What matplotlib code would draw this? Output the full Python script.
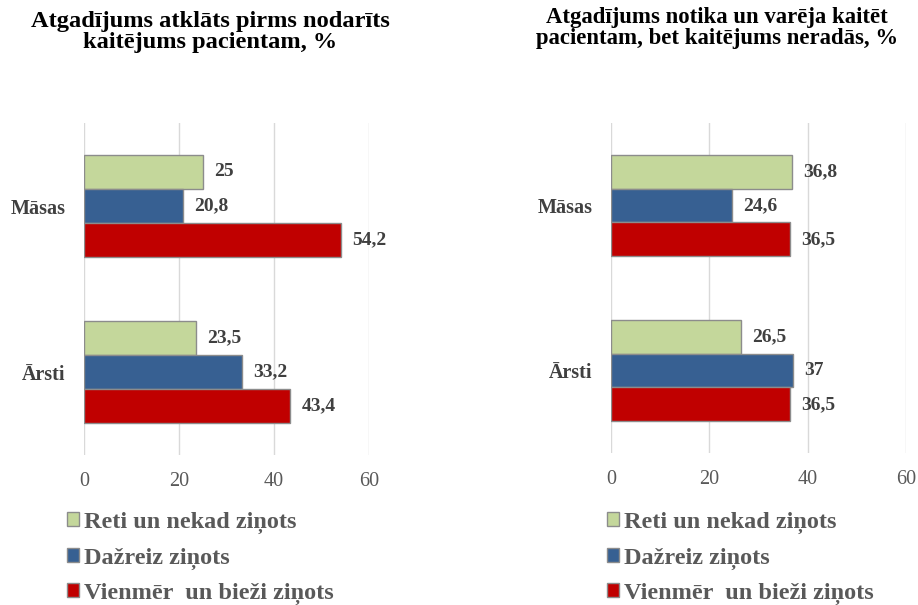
import matplotlib
matplotlib.use("Agg")
import matplotlib.pyplot as plt
from matplotlib.patches import Patch

categories = ["Ārsti", "Māsas"]
series_names = ["Reti un nekad ziņots", "Dažreiz ziņots", "Vienmēr  un bieži ziņots"]
left_title = "Atgadījums atklāts pirms nodarīts\nkaitējums pacientam, %"
right_title = "Atgadījums notika un varēja kaitēt\npacientam, bet kaitējums neradās, %"
# values per series, ordered as categories (Ārsti, Māsas)
left_reti = [23.5, 25]
left_dazreiz = [33.2, 20.8]
left_vienmer = [43.4, 54.2]
right_reti = [26.5, 36.8]
right_dazreiz = [37, 24.6]
right_vienmer = [36.5, 36.5]
x_ticks = [0, 20, 40, 60]

colors = ["#C4D79B", "#376092", "#C00000"]
SERIF = ["Liberation Serif", "DejaVu Serif"]
DARK = "#404040"
GREY = "#595959"

fig = plt.figure(figsize=(9.18, 6.05), dpi=100)
W, H = 918, 605

def ax_rect(x0, x1, y0, y1):
    return [x0 / W, 1 - y1 / H, (x1 - x0) / W, (y1 - y0) / H]

def fmt(v):
    return ("%g" % v).replace(".", ",")

def draw(ax, data):
    h = 0.205
    offsets = [h, 0, -h]
    for vals, off, c in zip(data, offsets, colors):
        ys = [i + off for i in range(len(categories))]
        ax.barh(ys, vals, height=h, color=c, edgecolor="#8C8C8C", linewidth=1.0, zorder=3)
        for y, v in zip(ys, vals):
            ax.annotate(fmt(v), (v, y), xytext=(8, 0), textcoords="offset points",
                        va="center", ha="left", fontsize=14, fontweight="bold",
                        family=SERIF, color=DARK)
    ax.set_xlim(0, 60)
    ax.set_ylim(-0.5, 1.5)
    ax.set_xticks(x_ticks)
    ax.set_xticklabels([str(t) for t in x_ticks], family=SERIF, fontsize=14.5, color=GREY)
    ax.set_yticks(range(len(categories)))
    ax.set_yticklabels(categories, family=SERIF, fontsize=14.5, fontweight="bold", color=DARK)
    ax.tick_params(axis="both", length=0)
    ax.tick_params(axis="x", pad=12)
    ax.tick_params(axis="y", pad=13.5)
    ax.grid(axis="x", color="#D9D9D9", linewidth=1.0, zorder=0)
    ax.set_axisbelow(True)
    for s in ax.spines.values():
        s.set_visible(False)

axL = fig.add_axes(ax_rect(84, 369, 123, 455))
draw(axL, [left_reti, left_dazreiz, left_vienmer])
axR = fig.add_axes(ax_rect(611, 906, 123, 453))
draw(axR, [right_reti, right_dazreiz, right_vienmer])

fig.text(210 / W, 1 - 32 / H, left_title, ha="center", va="center", fontsize=17.6,
         fontweight="bold", family=SERIF, color="black", linespacing=0.95)
fig.text(717 / W, 1 - 28 / H, right_title, ha="center", va="center", fontsize=16.4,
         fontweight="bold", family=SERIF, color="black", linespacing=0.95)

handles = [Patch(facecolor=c, edgecolor="#8C8C8C", linewidth=1.0) for c in colors]
for xpx in (67, 607):
    leg = fig.legend(handles, series_names, loc="upper left",
                     bbox_to_anchor=(xpx / W, 1 - 512 / H), frameon=False,
                     prop={"family": SERIF, "weight": "bold", "size": 17.5},
                     handlelength=0.5, handleheight=0.5, handletextpad=0.2,
                     labelspacing=0.55, borderaxespad=0, borderpad=0)
    for t in leg.get_texts():
        t.set_color(GREY)

fig.savefig("out.png", dpi=100)
